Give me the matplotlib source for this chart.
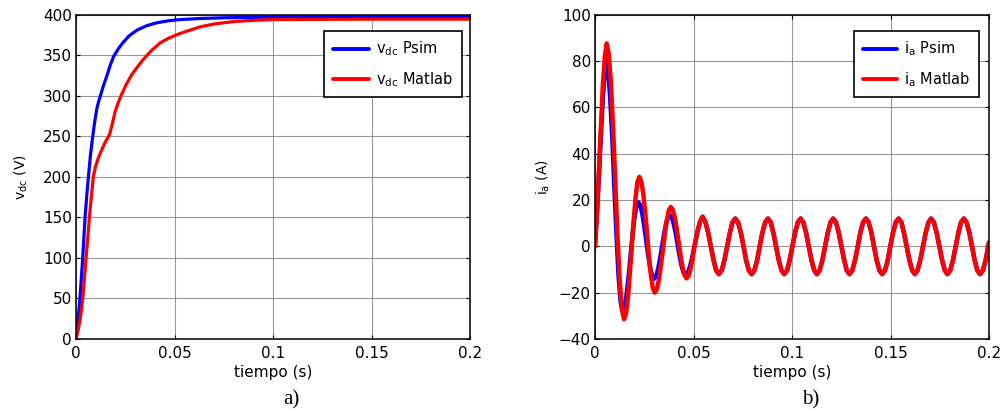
import numpy as np
import matplotlib
matplotlib.use('Agg')
import matplotlib.pyplot as plt
import matplotlib as mpl

# estilo tipo MATLAB
mpl.rcParams['font.family'] = 'DejaVu Sans'
mpl.rcParams['font.size'] = 11
mpl.rcParams['axes.linewidth'] = 1.1
mpl.rcParams['xtick.direction'] = 'in'
mpl.rcParams['ytick.direction'] = 'in'
mpl.rcParams['xtick.top'] = True
mpl.rcParams['ytick.right'] = True
mpl.rcParams['xtick.major.size'] = 3
mpl.rcParams['ytick.major.size'] = 3
mpl.rcParams['mathtext.fontset'] = 'dejavusans'
mpl.rcParams['lines.solid_joinstyle'] = 'round'
mpl.rcParams['lines.solid_capstyle'] = 'round'

# ---- datos a) tension del bus de continua ----
t_vdc_psim = [0, 0.001, 0.002, 0.003, 0.0034, 0.004, 0.0046, 0.0055, 0.0063,
              0.0074, 0.0085, 0.0095, 0.0105, 0.0115, 0.0125, 0.014, 0.0156,
              0.0173, 0.019, 0.0215, 0.024, 0.027, 0.031, 0.036, 0.041, 0.047,
              0.053, 0.063, 0.075, 0.09, 0.1, 0.2]
vdc_psim = [0, 22, 50, 85, 100, 125, 150, 178, 200,
            228, 250, 268, 283, 293, 301, 313, 324,
            337, 348, 358, 366, 374, 381, 386.5, 390, 392.5,
            394, 395.3, 396.2, 396.7, 397, 397]

t_vdc_matlab = [0, 0.001, 0.002, 0.003, 0.0034, 0.0043, 0.0051, 0.006, 0.0068,
                0.0078, 0.0088, 0.0098, 0.0113, 0.013, 0.0147, 0.017, 0.0185,
                0.0198, 0.0215, 0.0232, 0.0255, 0.0283, 0.031, 0.0342, 0.038,
                0.0426, 0.047, 0.053, 0.058, 0.063, 0.07, 0.08, 0.09, 0.1, 0.15, 0.2]
vdc_matlab = [0, 10, 23, 40, 50, 75, 100, 126, 150,
              176, 200, 212, 223, 233, 242, 252, 266,
              280, 292, 302, 314, 326, 335, 345, 355,
              365, 371, 377, 381, 385, 388.5, 391.5, 393, 394, 394.5, 394.5]

# ---- datos b) corriente de fase ----
t_ia_psim_tr = [0, 0.001, 0.002, 0.003, 0.004, 0.005, 0.0056,
                0.0067, 0.0077, 0.0088, 0.0098, 0.0109, 0.0119, 0.0130, 0.0140,
                0.0150, 0.0160, 0.0170, 0.0180, 0.0190, 0.0200, 0.0210, 0.0220,
                0.0230, 0.0240, 0.0250, 0.0260, 0.0270, 0.0280, 0.0290, 0.0300,
                0.0310, 0.0320, 0.0330, 0.0340, 0.0350, 0.0360, 0.0370, 0.0380,
                0.0390, 0.0400, 0.0410, 0.0420, 0.0430, 0.0440, 0.0450, 0.0460,
                0.0472, 0.0483, 0.0494]
ia_psim_tr = [0, 14, 30, 48, 64, 76, 80,
              75.9, 64.2, 46.7, 26, 5.3, -12.2, -23.9, -28,
              -26.2, -21.1, -13.5, -4.5, 4.5, 12.1, 17.2, 19,
              17.7, 14.2, 8.8, 2.5, -3.8, -9.2, -12.7, -14,
              -12.9, -10, -5.5, -0.3, 5, 9.5, 12.4, 13.5,
              12.5, 9.7, 5.5, 0.5, -4.4, -8.6, -11.4, -12.4,
              -11.3, -8.5, -4.6]

t_ia_matlab_tr = [0, 0.001, 0.002, 0.003, 0.004, 0.005, 0.0059,
                  0.0070, 0.0081, 0.0092, 0.0103, 0.0114, 0.0125, 0.0136, 0.0147,
                  0.0157, 0.0167, 0.0176, 0.0186, 0.0196, 0.0206, 0.0215, 0.0225,
                  0.0235, 0.0245, 0.0255, 0.0265, 0.0274, 0.0284, 0.0294, 0.0304,
                  0.0314, 0.0324, 0.0334, 0.0345, 0.0355, 0.0365, 0.0375, 0.0385,
                  0.0395, 0.0405, 0.0415, 0.0425, 0.0435, 0.0445, 0.0455, 0.0465,
                  0.0475, 0.0485, 0.0495]
ia_matlab_tr = [0, 15, 33, 52, 70, 82, 87.6,
                83, 70, 50.8, 28, 5.2, -14, -27, -31.5,
                -29.2, -22.5, -12.5, -0.7, 11, 21, 27.7, 30,
                28.1, 22.7, 14.6, 5, -4.6, -12.7, -18.1, -20,
                -18.6, -14.6, -8.6, -1.5, 5.6, 11.6, 15.6, 17,
                15.8, 12.5, 7.5, 1.6, -4.3, -9.3, -12.6, -13.8,
                -12.8, -9.8, -5.3]

# regimen permanente (comun a ambas curvas, ~60 Hz, 12 A de pico)
t_ia_ss = [0.0505, 0.0519, 0.0533, 0.0546, 0.0560, 0.0574, 0.0588, 0.0602, 0.0615, 0.0629, 0.0643, 0.0657,
           0.0671, 0.0685, 0.0698, 0.0712, 0.0726, 0.0740, 0.0754, 0.0767, 0.0781, 0.0795, 0.0809, 0.0823,
           0.0836, 0.0850, 0.0864, 0.0878, 0.0892, 0.0905, 0.0919, 0.0933, 0.0947, 0.0961, 0.0975, 0.0988,
           0.1002, 0.1016, 0.1030, 0.1044, 0.1057, 0.1071, 0.1085, 0.1099, 0.1113, 0.1126, 0.1140, 0.1154,
           0.1168, 0.1182, 0.1196, 0.1209, 0.1223, 0.1237, 0.1251, 0.1265, 0.1278, 0.1292, 0.1306, 0.1320,
           0.1334, 0.1347, 0.1361, 0.1375, 0.1389, 0.1403, 0.1416, 0.1430, 0.1444, 0.1458, 0.1472, 0.1486,
           0.1499, 0.1513, 0.1527, 0.1541, 0.1555, 0.1568, 0.1582, 0.1596, 0.1610, 0.1624, 0.1637, 0.1651,
           0.1665, 0.1679, 0.1693, 0.1706, 0.1720, 0.1734, 0.1748, 0.1762, 0.1776, 0.1789, 0.1803, 0.1817,
           0.1831, 0.1845, 0.1858, 0.1872, 0.1886, 0.1900, 0.1914, 0.1927, 0.1941, 0.1955, 0.1969, 0.1983,
           0.1996, 0.2]
ia_ss = [0, 6, 10.6, 12.8, 10.6, 6, 0, -6, -10.4, -12, -10.4, -6,
         0, 6, 10.4, 12, 10.4, 6, 0, -6, -10.4, -12, -10.4, -6,
         0, 6, 10.4, 12, 10.4, 6, 0, -6, -10.4, -12, -10.4, -6,
         0, 6, 10.4, 12, 10.4, 6, 0, -6, -10.4, -12, -10.4, -6,
         0, 6, 10.4, 12, 10.4, 6, 0, -6, -10.4, -12, -10.4, -6,
         0, 6, 10.4, 12, 10.4, 6, 0, -6, -10.4, -12, -10.4, -6,
         0, 6, 10.4, 12, 10.4, 6, 0, -6, -10.4, -12, -10.4, -6,
         0, 6, 10.4, 12, 10.4, 6, 0, -6, -10.4, -12, -10.4, -6,
         0, 6, 10.4, 12, 10.4, 6, 0, -6, -10.4, -12, -10.4, -6,
         0, 1.7]

t_ia_psim = t_ia_psim_tr + t_ia_ss
ia_psim = ia_psim_tr + ia_ss
t_ia_matlab = t_ia_matlab_tr + t_ia_ss
ia_matlab = ia_matlab_tr + ia_ss

xticks = [0, 0.05, 0.1, 0.15, 0.2]
xticklabels = ['0', '0.05', '0.1', '0.15', '0.2']

fig = plt.figure(figsize=(10, 4.15), dpi=100)
ax1 = fig.add_axes([0.076, 0.1831, 0.394, 0.7815])
ax2 = fig.add_axes([0.595, 0.1831, 0.394, 0.7815])

# a)
ax1.plot(t_vdc_psim, vdc_psim, color='#0000ff', linewidth=2.3, label=r'v$_{\rm dc}$ Psim')
ax1.plot(t_vdc_matlab, vdc_matlab, color='#ff0000', linewidth=2.3, label=r'v$_{\rm dc}$ Matlab')
ax1.set_xlim(0, 0.2)
ax1.set_ylim(0, 400)
ax1.set_yticks(range(0, 401, 50))
ax1.set_ylabel(r'v$_{\rm dc}$ (V)', fontsize=10)
ax1.yaxis.set_label_coords(-0.118, 0.5)

# b)
ax2.plot(t_ia_psim, ia_psim, color='#0000ff', linewidth=3.2, label=r'i$_{\rm a}$ Psim')
ax2.plot(t_ia_matlab, ia_matlab, color='#ff0000', linewidth=3.2, label=r'i$_{\rm a}$ Matlab')
ax2.set_xlim(0, 0.2)
ax2.set_ylim(-40, 100)
ax2.set_yticks(range(-40, 101, 20))
ax2.set_ylabel(r'i$_{\rm a}$ (A)', fontsize=10)
ax2.yaxis.set_label_coords(-0.11, 0.5)

legend_anchor = {ax1: (0.98, 0.95), ax2: (0.975, 0.95)}
legend_handle = {ax1: 2.5, ax2: 2.3}
for ax in (ax1, ax2):
    ax.set_xticks(xticks)
    ax.set_xticklabels(xticklabels)
    ax.set_xlabel('tiempo (s)', fontsize=11, labelpad=3)
    ax.grid(True, color='#7f7f7f', linewidth=0.8, alpha=0.8)
    ax.set_axisbelow(True)
    ax.tick_params(labelsize=11)
    ax.tick_params(axis='x', pad=5)
    ax.tick_params(axis='y', pad=3)
    leg = ax.legend(loc='upper right', bbox_to_anchor=legend_anchor[ax], borderaxespad=0,
                    fontsize=10.5, fancybox=False, framealpha=1, edgecolor='black',
                    handlelength=legend_handle[ax], handletextpad=0.5, borderpad=0.6,
                    labelspacing=0.8)
    leg.get_frame().set_linewidth(1.2)
    for line in leg.get_lines():
        line.set_linewidth(2.8)

fig.text(0.291, 0.025, 'a)', fontsize=15, family='Liberation Serif', ha='center')
fig.text(0.811, 0.025, 'b)', fontsize=15, family='Liberation Serif', ha='center')

plt.savefig('out.png', dpi=100)
